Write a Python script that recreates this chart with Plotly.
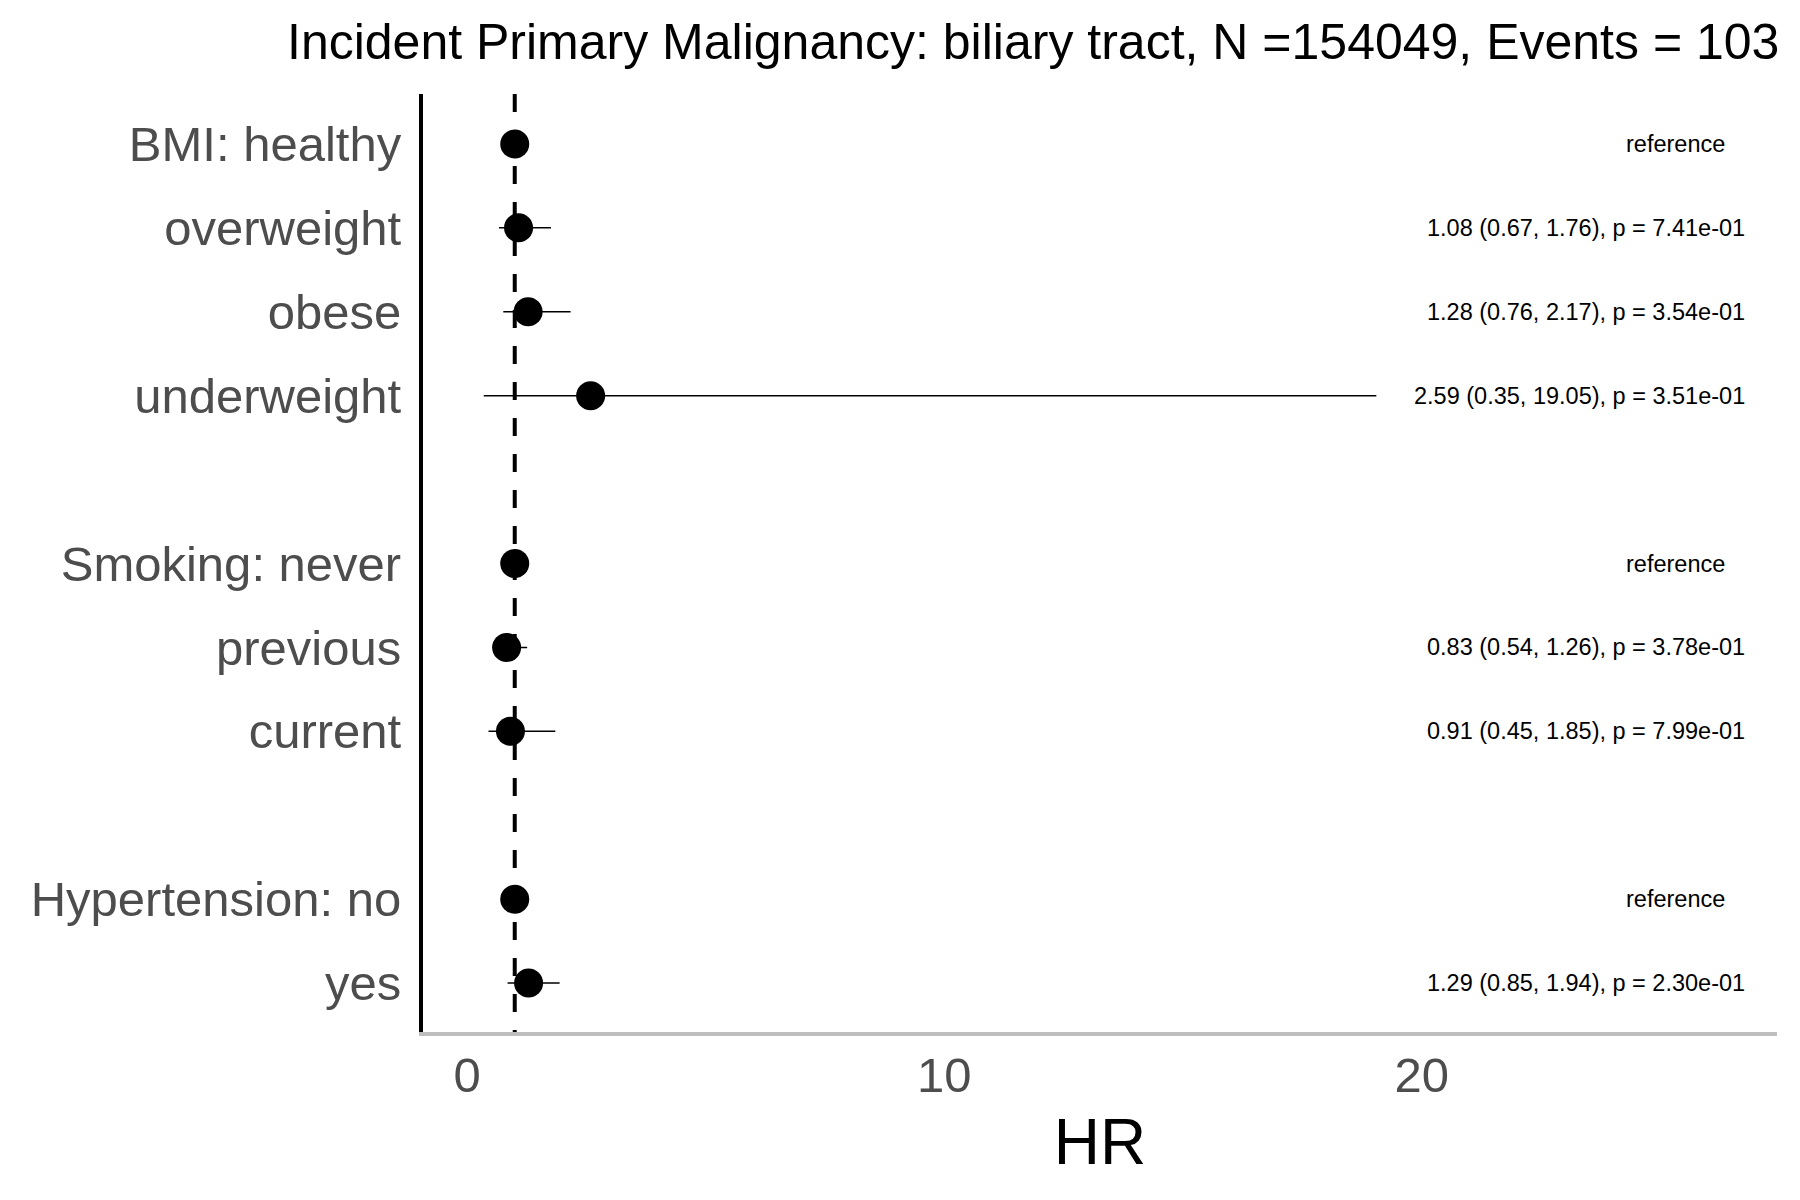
import plotly.graph_objects as go

# ---- data ----
categories = ["BMI: healthy", "overweight", "obese", "underweight",
              "Smoking: never", "previous", "current",
              "Hypertension: no", "yes"]
group_sizes = [4, 3, 2]
hr = [1.0, 1.08, 1.28, 2.59, 1.0, 0.83, 0.91, 1.0, 1.29]
lo = [None, 0.67, 0.76, 0.35, None, 0.54, 0.45, None, 0.85]
hi = [None, 1.76, 2.17, 19.05, None, 1.26, 1.85, None, 1.94]
pval = [None, 0.741, 0.354, 0.351, None, 0.378, 0.799, None, 0.230]
x_ticks = [0, 10, 20]
title_text = "Incident Primary Malignancy: biliary tract, N =154049, Events = 103"

# slot positions (one empty slot between groups)
slots = []
s = 1
for g in group_sizes:
    for _ in range(g):
        slots.append(s)
        s += 1
    s += 1

err_plus = [(b - a) if b is not None else 0 for a, b in zip(hr, hi)]
err_minus = [(a - b) if b is not None else 0 for a, b in zip(hr, lo)]

FONT = "Liberation Sans, Arial, Helvetica, sans-serif"
W, H = 1792, 1192  # page body adds an 8px margin

fig = go.Figure()
fig.add_trace(go.Scatter(
    x=hr, y=slots, mode="markers",
    marker=dict(size=29, color="black", line=dict(width=0)),
    error_x=dict(type="data", symmetric=False, array=err_plus, arrayminus=err_minus,
                 width=0, thickness=1.5, color="black"),
    showlegend=False, hoverinfo="skip",
))

# reference dashed line at HR = 1
fig.add_shape(type="line", xref="x", yref="paper", x0=1, x1=1, y0=1, y1=0,
              line=dict(color="black", width=4, dash="18px,18px"), layer="below")

# right-hand labels
for y, h, a, b, p in zip(slots, hr, lo, hi, pval):
    if a is None:
        fig.add_annotation(x=25.31, y=y, xref="x", yref="y", text="reference",
                           showarrow=False, xanchor="center", yanchor="middle",
                           font=dict(family=FONT, size=23.5, color="black"))
    else:
        txt = f"{h:.2f} ({a:.2f}, {b:.2f}), p = {p:.2e}"
        fig.add_annotation(x=26.82, y=y, xref="x", yref="y", text=txt,
                           showarrow=False, xanchor="right", yanchor="middle",
                           font=dict(family=FONT, size=23.5, color="black"))

fig.update_layout(
    width=W, height=H,
    paper_bgcolor="white", plot_bgcolor="white",
    margin=dict(l=415, r=23, t=86, b=168),
    font=dict(family=FONT),
    title=dict(text=title_text, xref="container", yref="container",
               x=279 / W, xanchor="left", y=1 - 33 / H, yanchor="middle",
               font=dict(family=FONT, size=50, color="black")),
)
fig.update_xaxes(
    range=[-0.922, 27.444], tickvals=x_ticks, ticktext=[str(t) for t in x_ticks],
    showline=True, linecolor="#BEBEBE", linewidth=3.5, ticks="",
    showgrid=False, zeroline=False,
    tickfont=dict(family=FONT, size=49, color="#4D4D4D"),
    ticklabelstandoff=-3,
    title=dict(text="HR", font=dict(family=FONT, size=64, color="black"), standoff=20),
)
fig.update_yaxes(
    range=[11.583, 0.405], tickvals=slots, ticktext=categories,
    showline=True, linecolor="black", linewidth=4, ticks="",
    showgrid=False, zeroline=False,
    tickfont=dict(family=FONT, size=49, color="#4D4D4D"),
    ticklabelstandoff=8,
)

fig.write_html("out.html")
